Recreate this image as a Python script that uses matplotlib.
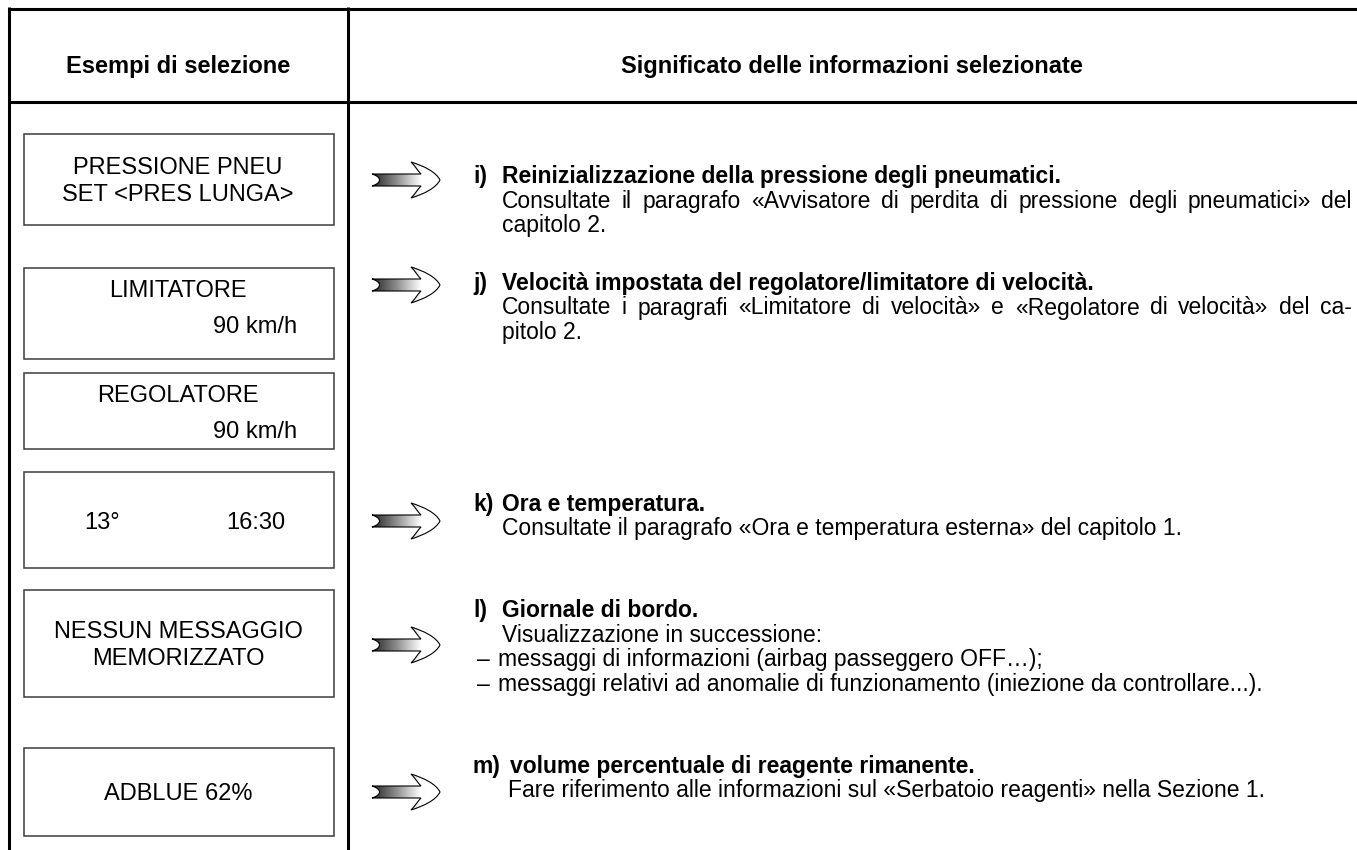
import matplotlib
matplotlib.use('Agg')
import matplotlib.pyplot as plt
import numpy as np
from matplotlib.path import Path
from matplotlib.patches import PathPatch, Rectangle
from matplotlib.colors import LinearSegmentedColormap

plt.rcParams['font.family'] = ['Liberation Sans', 'DejaVu Sans']

# --- content -------------------------------------------------------------
header_left = 'Esempi di selezione'
header_right = 'Significato delle informazioni selezionate'

box_lines = [
    ['PRESSIONE PNEU', 'SET <PRES LUNGA>'],
    ['LIMITATORE'],
    ['REGOLATORE'],
    [],
    ['NESSUN MESSAGGIO', 'MEMORIZZATO'],
    ['ADBLUE 62%'],
]
box_speed = ['', '90 km/h', '90 km/h', '', '', '']
temp_time = ['13°', '16:30']

item_keys = ['i)', 'j)', 'k)', 'l)', 'm)']
item_titles = [
    'Reinizializzazione della pressione degli pneumatici.',
    'Velocità impostata del regolatore/limitatore di velocità.',
    'Ora e temperatura.',
    'Giornale di bordo.',
    'volume percentuale di reagente rimanente.',
]
# lines ending with '|' are justified to the right margin
item_body = [
    ['Consultate il paragrafo «Avvisatore di perdita di pressione degli pneumatici» del|',
     'capitolo 2.'],
    ['Consultate i paragrafi «Limitatore di velocità» e «Regolatore di velocità» del ca-|',
     'pitolo 2.'],
    ['Consultate il paragrafo «Ora e temperatura esterna» del capitolo 1.'],
    ['Visualizzazione in successione:',
     '–\tmessaggi di informazioni (airbag passeggero OFF…);',
     '–\tmessaggi relativi ad anomalie di funzionamento (iniezione da controllare...).'],
    ['Fare riferimento alle informazioni sul «Serbatoio reagenti» nella Sezione 1.'],
]

# --- layout (pixels) ------------------------------------------------------
W, H = 1357, 850
box_tb = [(134, 225), (268, 359), (373, 449), (472, 568), (590, 697), (748, 836)]
item_base = [183, 290, 511, 617, 773]
arrow_y = [180, 285, 521, 645, 792]
title_x = [502, 502, 502, 502, 510]
body_x = [502, 502, 502, 502, 508]
line_gap = 24.5
right_margin = 1352

fig = plt.figure(figsize=(W / 100, H / 100), dpi=100)
ax = fig.add_axes([0, 0, 1, 1])
ax.axis('off')
ax.set_xlim(0, W)
ax.set_ylim(H, 0)

# table frame
lw_frame = 2.2
ax.plot([8.5, W], [8.5, 8.5], color='black', lw=lw_frame, solid_capstyle='butt')
ax.plot([8.5, W], [102, 102], color='black', lw=lw_frame, solid_capstyle='butt')
ax.plot([8.5, 8.5], [7.4, H], color='black', lw=lw_frame, solid_capstyle='butt')
ax.plot([347.5, 347.5], [7.4, H], color='black', lw=lw_frame, solid_capstyle='butt')

ax.text(178, 73, header_left, fontsize=17, fontweight='bold', ha='center', va='baseline')
ax.text(852, 73, header_right, fontsize=17, fontweight='bold', ha='center', va='baseline')

# display boxes
fs_box = 17
for k, (top, bot) in enumerate(box_tb):
    ax.add_patch(Rectangle((23.5, top), 310, bot - top, fill=False,
                           edgecolor='#3c3c3c', lw=1.1, zorder=2))
    lines = box_lines[k]
    if box_speed[k]:
        ax.text(178, top + 29, lines[0], fontsize=fs_box, ha='center', va='baseline')
        ax.text(297, top + 65, box_speed[k], fontsize=fs_box, ha='right', va='baseline')
    elif not lines:
        mid = (top + bot) / 2 + 9
        ax.text(84, mid, temp_time[0], fontsize=fs_box, ha='left', va='baseline')
        ax.text(285, mid, temp_time[1], fontsize=fs_box, ha='right', va='baseline')
    else:
        n = len(lines)
        mid = (top + bot) / 2
        for j, s in enumerate(lines):
            y = mid + 8 + (j - (n - 1) / 2) * 27
            ax.text(178, y, s, fontsize=fs_box, ha='center', va='baseline')


# arrows
cmap = LinearSegmentedColormap.from_list('arr', [(0, '#262626'), (0.35, '#8a8a8a'),
                                                 (0.72, '#ffffff'), (1, '#ffffff')])


def draw_arrow(x0, cy):
    verts = [(x0, cy - 6), (x0 + 49, cy - 6),
             (x0 + 46, cy - 9), (x0 + 43, cy - 14), (x0 + 39, cy - 18),
             (x0 + 52, cy - 14), (x0 + 64, cy - 8), (x0 + 68, cy),
             (x0 + 64, cy + 8), (x0 + 52, cy + 14), (x0 + 39, cy + 18),
             (x0 + 43, cy + 14), (x0 + 46, cy + 9), (x0 + 49, cy + 6),
             (x0, cy + 6),
             (x0 + 10, cy + 3), (x0 + 10, cy - 3), (x0, cy - 6),
             (x0, cy - 6)]
    codes = [Path.MOVETO, Path.LINETO,
             Path.CURVE4, Path.CURVE4, Path.CURVE4,
             Path.CURVE4, Path.CURVE4, Path.CURVE4,
             Path.CURVE4, Path.CURVE4, Path.CURVE4,
             Path.CURVE4, Path.CURVE4, Path.CURVE4,
             Path.LINETO,
             Path.CURVE4, Path.CURVE4, Path.CURVE4,
             Path.CLOSEPOLY]
    patch = PathPatch(Path(verts, codes), facecolor='none', edgecolor='black',
                      lw=0.8, zorder=4)
    ax.add_patch(patch)
    grad = np.linspace(0, 1, 200).reshape(1, -1)
    im = ax.imshow(grad, cmap=cmap, extent=(x0, x0 + 68, cy + 19, cy - 19),
                   aspect='auto', interpolation='bilinear', zorder=3)
    im.set_clip_path(patch)


for cy in arrow_y:
    draw_arrow(372, cy)
ax.set_xlim(0, W)
ax.set_ylim(H, 0)

renderer = fig.canvas.get_renderer()


def justified(x0, x1, y, s, **kw):
    words = s.split(' ')
    texts = [ax.text(0, y, w, va='baseline', **kw) for w in words]
    widths = [t.get_window_extent(renderer).width for t in texts]
    gap = (x1 - x0 - sum(widths)) / (len(words) - 1)
    x = x0
    for t, w in zip(texts, widths):
        t.set_x(x)
        x += w + gap


# descriptions
fs_txt = 16.5
for k in range(len(item_keys)):
    yb = item_base[k]
    ax.text(473, yb, item_keys[k], fontsize=fs_txt, fontweight='bold', va='baseline')
    ax.text(title_x[k], yb, item_titles[k], fontsize=fs_txt,
            fontweight='bold', va='baseline')
    for j, s in enumerate(item_body[k]):
        y = yb + (j + 1) * line_gap
        if s.endswith('|'):
            justified(body_x[k], right_margin, y, s[:-1], fontsize=fs_txt)
        elif '\t' in s:
            dash, rest = s.split('\t')
            ax.text(477, y, dash, fontsize=fs_txt, va='baseline')
            ax.text(498, y, rest, fontsize=fs_txt, va='baseline')
        else:
            ax.text(body_x[k], y, s, fontsize=fs_txt, va='baseline')

fig.savefig('out.png', dpi=100)
